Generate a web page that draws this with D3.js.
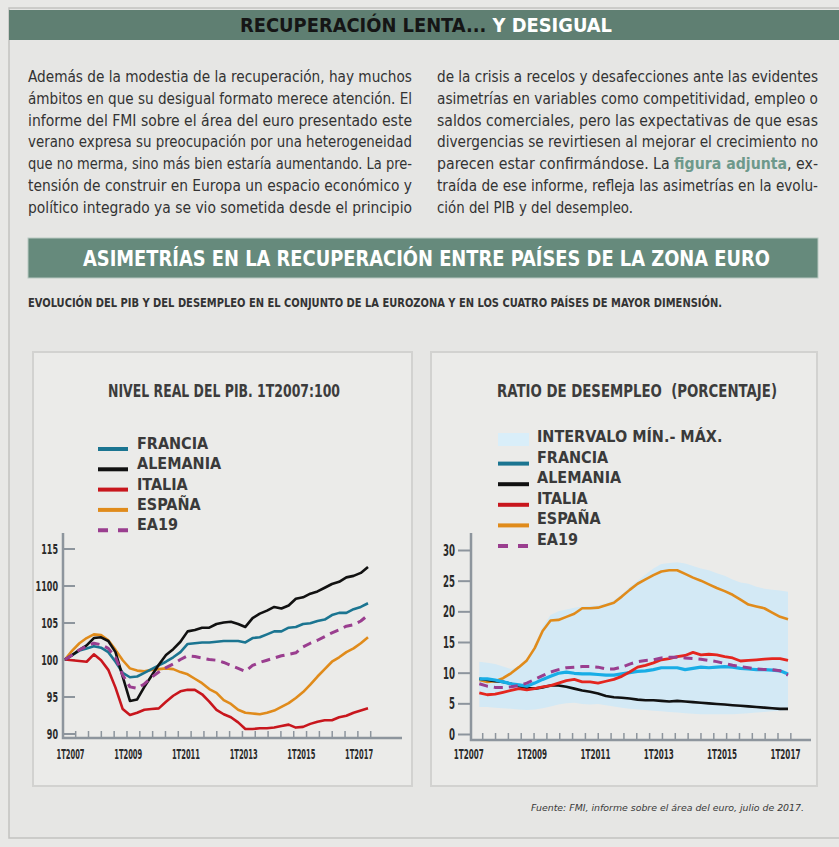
<!DOCTYPE html>
<html><head><meta charset="utf-8">
<script src="https://cdn.jsdelivr.net/npm/d3@7"></script>
<style>body{margin:0;background:#e8e8e6;}svg{display:block}</style>
</head><body>
<svg id="c" width="839" height="847"></svg>
<script>
// ---------- DATA ----------
// GDP, real level, 1T2007 = 100 (quarters from 1T2007)
const pibFrancia = [100.0,100.6,101.2,101.5,101.8,101.6,101.0,99.7,98.2,97.6,97.7,98.2,98.7,99.2,99.7,100.3,101.0,102.1,102.2,102.3,102.3,102.4,102.5,102.5,102.5,102.3,102.9,103.0,103.4,103.8,103.8,104.3,104.4,104.8,104.9,105.2,105.4,106.0,106.3,106.3,106.8,107.1,107.6];
const pibAlemania = [100.0,100.6,101.3,101.9,102.9,103.0,102.5,101.0,97.7,94.4,94.6,96.3,97.8,99.3,100.6,101.4,102.4,103.8,104.0,104.3,104.3,104.8,105.0,105.1,104.8,104.4,105.6,106.2,106.6,107.1,106.9,107.3,108.2,108.4,108.9,109.2,109.7,110.2,110.5,111.1,111.3,111.7,112.5];
const pibItalia = [100.0,99.9,99.8,99.7,100.7,99.9,98.6,96.2,93.3,92.5,92.8,93.2,93.3,93.4,94.3,95.1,95.7,95.9,95.9,95.3,94.3,93.2,92.6,92.2,91.5,90.6,90.6,90.7,90.7,90.8,91.0,91.2,90.8,90.9,91.3,91.6,91.8,91.8,92.2,92.4,92.8,93.1,93.4];
const pibEspana = [100.0,101.2,102.2,102.9,103.4,103.3,102.6,101.3,99.9,98.8,98.5,98.4,98.6,98.7,98.8,98.7,98.3,98.0,97.4,96.8,96.0,95.5,94.5,94.0,93.2,92.8,92.7,92.6,92.8,93.1,93.6,94.1,94.8,95.6,96.6,97.7,98.7,99.7,100.3,101.0,101.5,102.2,103.0];
const pibEA19 = [100.0,100.6,101.3,101.8,102.2,102.0,101.5,100.3,97.9,96.3,96.1,96.7,97.6,98.3,98.9,99.4,100.0,100.5,100.4,100.2,100.0,99.9,99.6,99.2,98.8,98.4,99.2,99.6,99.9,100.2,100.5,100.7,100.9,101.7,102.2,102.6,103.1,103.6,104.0,104.5,104.7,105.2,106.0];
const pibTicks = [90,95,100,105,110,115];
const pibTickLabels = ["90","95","100","105","1100","115"];

// Unemployment rate, % (quarters from 1T2007)
const desFrancia = [9.0,9.0,8.8,8.5,8.2,8.0,7.8,8.3,8.9,9.4,9.9,10.1,9.9,9.8,9.8,9.7,9.6,9.6,9.8,10.0,10.2,10.3,10.5,10.8,10.8,10.8,10.5,10.7,10.9,10.8,10.9,11.0,10.9,10.7,10.6,10.5,10.5,10.4,10.3,9.8];
const desAlemania = [9.0,8.8,8.6,8.5,8.2,7.8,7.5,7.4,7.6,7.9,7.9,7.7,7.4,7.1,6.9,6.6,6.2,6.0,5.9,5.8,5.6,5.5,5.5,5.4,5.3,5.4,5.3,5.2,5.1,5.0,4.9,4.8,4.7,4.6,4.5,4.4,4.3,4.2,4.1,4.1];
const desItalia = [6.7,6.4,6.5,6.8,7.1,7.4,7.2,7.4,7.7,7.9,8.3,8.7,8.9,8.5,8.5,8.3,8.6,8.9,9.4,10.1,10.9,11.2,11.6,12.1,12.3,12.6,12.8,13.3,12.9,13.0,12.9,12.6,12.4,11.9,12.0,12.1,12.2,12.3,12.3,12.0];
const desEspana = [8.8,8.5,8.6,9.1,9.9,10.9,12.0,14.0,16.8,18.5,18.6,19.1,19.6,20.5,20.5,20.6,21.0,21.4,22.4,23.5,24.5,25.2,25.9,26.5,26.7,26.7,26.1,25.5,25.0,24.4,23.8,23.3,22.7,21.9,21.1,20.8,20.5,19.8,19.1,18.7];
const desEA19 = [8.2,7.8,7.6,7.6,7.7,7.9,8.3,8.9,9.5,10.1,10.5,10.8,10.9,11.0,11.0,10.9,10.6,10.6,10.9,11.4,11.8,12.0,12.1,12.4,12.5,12.5,12.4,12.3,12.2,12.0,11.8,11.5,11.2,11.0,10.8,10.6,10.5,10.5,10.3,9.6];
const desMax = [11.8,11.6,11.4,11.0,10.6,11.0,12.0,14.5,17.5,19.4,20.0,20.3,20.6,20.8,20.9,21.0,21.3,21.8,22.8,24.0,25.0,26.0,27.0,27.7,27.9,28.0,27.8,27.4,27.0,26.7,26.2,25.8,25.2,24.7,24.5,24.0,23.7,23.5,23.4,23.2];
const desMin = [4.4,4.4,4.3,4.2,4.1,4.0,3.9,4.0,4.2,4.5,4.8,5.0,5.1,4.9,4.8,4.9,4.7,4.5,4.3,4.1,4.0,3.9,3.8,3.7,3.6,3.5,3.4,3.3,3.2,3.2,3.2,3.2,3.2,3.3,3.4,3.5,3.6,3.7,3.8,3.9];
const desTicks = [0,5,10,15,20,25,30];

const yearTickIdx = [0,8,16,24,32,40];
const yearTickLabels = ["1T2007","1T2009","1T2011","1T2013","1T2015","1T2017"];

const legendPIB = ["FRANCIA","ALEMANIA","ITALIA","ESPAÑA","EA19"];
const legendDes = ["INTERVALO MÍN.- MÁX.","FRANCIA","ALEMANIA","ITALIA","ESPAÑA","EA19"];

const paraLeft = [
 "Además de la modestia de la recuperación, hay muchos",
 "ámbitos en que su desigual formato merece atención. El",
 "informe del FMI sobre el área del euro presentado este",
 "verano expresa su preocupación por una heterogeneidad",
 "que no merma, sino más bien estaría aumentando. La pre-",
 "tensión de construir en Europa un espacio económico y",
 "político integrado ya se vio sometida desde el principio"];
const paraRight = [
 "de la crisis a recelos y desafecciones ante las evidentes",
 "asimetrías en variables como competitividad, empleo o",
 "saldos comerciales, pero las expectativas de que esas",
 "divergencias se revirtiesen al mejorar el crecimiento no",
 "parecen estar confirmándose. La |figura adjunta|, ex-",
 "traída de ese informe, refleja las asimetrías en la evolu-",
 "ción del PIB y del desempleo."];

// ---------- DRAW ----------
const COND = '"Liberation Sans Narrow","DejaVu Sans Condensed","Roboto Condensed",Roboto,sans-serif';
const svg = d3.select("#c");
const C = {fr:"#1b7591", de:"#111111", it:"#c8161d", es:"#e08b1b", ea:"#9a3e8f",
           frR:"#18ade6", itR:"#e4261f", band:"#d3e9f5", axis:"#8d959d", bar:"#5f7f72"};

svg.append("rect").attr("width",839).attr("height",847).attr("fill","#e8e8e6");
svg.append("rect").attr("x",9).attr("y",8).attr("width",840).attr("height",830)
  .attr("fill","#e6e6e4").attr("stroke","#c2c2c0").attr("stroke-width",1.5);

// title bar
svg.append("rect").attr("x",9).attr("y",10).attr("width",840).attr("height",30).attr("fill",C.bar);
const t1 = svg.append("text").attr("x",240).attr("y",32).attr("font-family",COND)
  .attr("font-weight","bold").attr("font-size",20).attr("textLength",372).attr("lengthAdjust","spacingAndGlyphs");
t1.append("tspan").attr("fill","#151515").text("RECUPERACIÓN LENTA... ");
t1.append("tspan").attr("fill","#ffffff").text("Y DESIGUAL");

// paragraphs
function para(lines, x0, width, lastWidth) {
  lines.forEach((ln, i) => {
    const t = svg.append("text").attr("x",x0).attr("y",82 + i*21.8)
      .attr("font-family",COND).attr("font-size",15.5).attr("fill","#333333")
      .attr("textLength", i === lines.length-1 && lastWidth ? lastWidth : width)
      .attr("lengthAdjust","spacingAndGlyphs");
    ln.split("|").forEach((part, j) => {
      const s = t.append("tspan").text(part);
      if (j===1) s.attr("font-weight","bold").attr("fill","#6e998b");
    });
  });
}
para(paraLeft, 28, 384);
para(paraRight, 437, 381, 196);

// second banner
svg.append("rect").attr("x",28).attr("y",238).attr("width",790).attr("height",40)
  .attr("fill","#668a7c").attr("stroke","#b9c9c2").attr("stroke-width",1);
svg.append("text").attr("x",83).attr("y",266).attr("font-family",COND).attr("font-weight","bold")
  .attr("font-size",21).attr("fill","#ffffff").attr("textLength",687).attr("lengthAdjust","spacingAndGlyphs")
  .text("ASIMETRÍAS EN LA RECUPERACIÓN ENTRE PAÍSES DE LA ZONA EURO");
svg.append("text").attr("x",28).attr("y",307).attr("font-family",COND).attr("font-weight","bold")
  .attr("font-size",12).attr("fill","#333").attr("textLength",694).attr("lengthAdjust","spacingAndGlyphs")
  .text("EVOLUCIÓN DEL PIB Y DEL DESEMPLEO EN EL CONJUNTO DE LA EUROZONA Y EN LOS CUATRO PAÍSES DE MAYOR DIMENSIÓN.");

// panels
[[33,379],[431,386]].forEach(([x,w]) => {
  svg.append("rect").attr("x",x).attr("y",352).attr("width",w).attr("height",434)
    .attr("fill","#ebebe9").attr("stroke","#d2d2d0").attr("stroke-width",2);
});
function title(x, txt, w) {
  svg.append("text").attr("x",x).attr("y",397).attr("font-family",COND).attr("font-weight","bold")
    .attr("font-size",18).attr("fill","#3c3c3c").attr("textLength",w).attr("lengthAdjust","spacingAndGlyphs")
    .attr("xml:space","preserve").style("white-space","pre").text(txt);
}
title(108,"NIVEL REAL DEL PIB. 1T2007:100",232);
title(497,"RATIO DE DESEMPLEO  (PORCENTAJE)",280);

function legendText(x,y,txt){
  svg.append("text").attr("x",x).attr("y",y).attr("font-family",COND).attr("font-weight","bold")
    .attr("font-size",16).attr("fill","#3a3a3a").text(txt);
}
// left legend
const legColsL = [C.fr,C.de,C.it,C.es,C.ea];
legendPIB.forEach((n,i)=>{
  const y = 449 + i*20.3;
  svg.append("line").attr("x1",98).attr("x2",128).attr("y1",y).attr("y2",y)
    .attr("stroke",legColsL[i]).attr("stroke-width",4).attr("stroke-dasharray", n==="EA19"?"10,10":null);
  legendText(137,y,n);
});
// right legend
const legColsR = [null,C.fr,C.de,C.it,C.es,C.ea];
legendDes.forEach((n,i)=>{
  const y = 442 + i*20.6;
  if (i===0) svg.append("rect").attr("x",498).attr("y",y-9).attr("width",31).attr("height",13).attr("fill","#d9eef9");
  else svg.append("line").attr("x1",498).attr("x2",529).attr("y1",y+1).attr("y2",y+1)
    .attr("stroke",legColsR[i]).attr("stroke-width",4).attr("stroke-dasharray", n==="EA19"?"10,10":null);
  legendText(537,y,n);
});

// ---------- LEFT CHART ----------
const xL = d3.scaleLinear().domain([0,42]).range([65,368]);
const yL = d3.scaleLinear().domain([90,115]).range([733.5,548.5]);
const axisStyle = s => s.attr("stroke",C.axis).attr("stroke-width",2.5).attr("fill","none");
const tickFont = s => s.attr("font-family",COND).attr("font-weight","bold").attr("fill","#2a2a2a");

const gL = svg.append("g");
const yAxL = gL.append("g").attr("transform","translate(63,0)")
  .call(d3.axisRight(yL).tickValues(pibTicks).tickSize(12).tickFormat(""));
yAxL.select(".domain").remove();
yAxL.selectAll("line").attr("stroke",C.axis).attr("stroke-width",2);
pibTicks.forEach((v,i)=>{
  gL.append("text").attr("x",58).attr("y",yL(v)+5).attr("text-anchor","end").attr("font-size",14)
    .attr("textLength",pibTickLabels[i].length*5.6).attr("lengthAdjust","spacingAndGlyphs")
    .call(tickFont).text(pibTickLabels[i]);
});
gL.append("path").attr("d","M63,533V738H402").call(axisStyle);
const minorL = d3.range(24).map(k=>1.48+k*1.778);
gL.selectAll(".mtL").data(minorL).join("line").attr("x1",d=>xL(d)).attr("x2",d=>xL(d))
  .attr("y1",731).attr("y2",738).attr("stroke",C.axis).attr("stroke-width",1.5);
const xAxL = gL.append("g").attr("transform","translate(5,738)")
  .call(d3.axisBottom(xL).tickValues(yearTickIdx).tickSize(0).tickPadding(11).tickFormat((d,i)=>yearTickLabels[i]));
xAxL.select(".domain").remove();
xAxL.selectAll("text").attr("font-size",14).attr("textLength",28).attr("lengthAdjust","spacingAndGlyphs").call(tickFont);

const lineL = d3.line().x((d,i)=>xL(i)).y(d=>yL(d));
[[pibEspana,C.es],[pibItalia,C.it],[pibFrancia,C.fr],[pibAlemania,C.de],[pibEA19,C.ea,true]].forEach(([d,c,dash])=>{
  gL.append("path").datum(d).attr("d",lineL).attr("fill","none").attr("stroke",c)
    .attr("stroke-width",dash?3:2.6).attr("stroke-linejoin","round").attr("stroke-dasharray",dash?"9,6":null);
});

// ---------- RIGHT CHART ----------
const xR = d3.scaleLinear().domain([0,39]).range([479.3,788]);
const yR = d3.scaleLinear().domain([0,30]).range([734,550]);
const gR = svg.append("g");
const area = d3.area().x((d,i)=>xR(i)).y0((d,i)=>yR(desMin[i])).y1(d=>yR(d));
gR.append("path").datum(desMax).attr("d",area).attr("fill",C.band);

const yAxR = gR.append("g").attr("transform","translate(471,0)")
  .call(d3.axisLeft(yR).tickValues(desTicks).tickSize(13).tickFormat(""));
yAxR.select(".domain").remove();
yAxR.selectAll("line").attr("stroke",C.axis).attr("stroke-width",2);
desTicks.forEach(v=>{
  gR.append("text").attr("x",455).attr("y",yR(v)+6).attr("text-anchor","end").attr("font-size",15)
    .attr("textLength",String(v).length*6).attr("lengthAdjust","spacingAndGlyphs").call(tickFont).text(v);
});
gR.append("path").attr("d","M471,533V740H811").call(axisStyle);
const minorR = d3.range(25).map(k=>0.43+k*1.622);
gR.selectAll(".mtR").data(minorR).join("line").attr("x1",d=>xR(d)).attr("x2",d=>xR(d))
  .attr("y1",733).attr("y2",740).attr("stroke",C.axis).attr("stroke-width",1.5);
const xAxR = gR.append("g").attr("transform","translate(-11,740)")
  .call(d3.axisBottom(xR).tickValues(yearTickIdx).tickSize(0).tickPadding(9).tickFormat((d,i)=>yearTickLabels[i]));
xAxR.select(".domain").remove();
xAxR.selectAll("text").attr("font-size",14).attr("textLength",30).attr("lengthAdjust","spacingAndGlyphs").call(tickFont);

const lineR = d3.line().x((d,i)=>xR(i)).y(d=>yR(d));
[[desEspana,C.es,2.6],[desAlemania,C.de,2.6],[desFrancia,C.frR,3.2],[desItalia,C.itR,2.8],[desEA19,C.ea,3,true]].forEach(([d,c,w,dash])=>{
  gR.append("path").datum(d).attr("d",lineR).attr("fill","none").attr("stroke",c)
    .attr("stroke-width",w).attr("stroke-linejoin","round").attr("stroke-dasharray",dash?"9,6":null);
});

// footnote
svg.append("text").attr("x",531).attr("y",811).attr("font-family",'"DejaVu Sans",sans-serif')
  .attr("font-style","italic").attr("font-size",9.5).attr("fill","#3a3a3a")
  .attr("textLength",273).attr("lengthAdjust","spacingAndGlyphs")
  .text("Fuente: FMI, informe sobre el área del euro, julio de 2017.");
</script>
</body></html>
